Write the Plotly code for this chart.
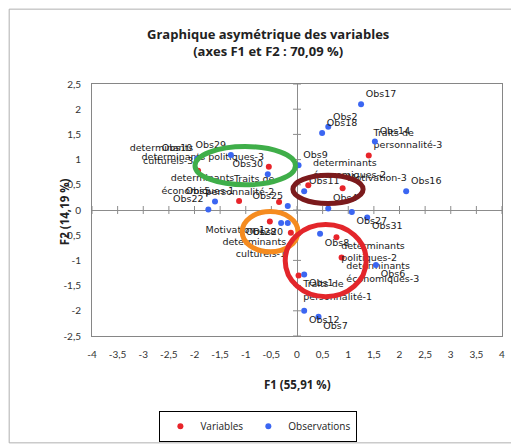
import plotly.graph_objects as go

# ---- data ----
var_x = [1.40, 0.22, 0.89, -0.55, -1.13, -0.35, -0.53, -0.12, 0.77, 0.87, 0.03, -1.93]
var_y = [1.08, 0.49, 0.43, 0.86, 0.18, 0.16, -0.23, -0.45, -0.54, -0.94, -1.30, 0.78]
var_labels = ["Traits de<br>personnalité-3", "determinants<br>économiques-2", "Motivation-3",
              "determinants politiques-3", "determinants<br>économiques-1", "Traits de<br>personnalité-2",
              "Motivation-1", "determinants<br>culturels-1", "determinants<br>politiques-2",
              "determinants<br>économiques-3", "Traits de<br>personnalité-1", "determinants<br>culturels-3"]

obs_x = [1.25, 0.61, 0.49, 1.52, 0.03, 2.13, 0.14, 0.61, 1.07, 1.37, 0.45, 1.54, 0.14, 0.14, 0.42,
         -1.29, -0.57, -1.95, -1.60, -1.73, -0.18, -0.31, -0.18]
obs_y = [2.10, 1.65, 1.53, 1.36, 0.89, 0.37, 0.37, 0.03, -0.04, -0.15, -0.47, -1.09, -1.28, -2.00, -2.12,
         1.09, 0.71, 1.02, 0.17, 0.01, 0.08, -0.26, -0.26]
obs_labels = ["Obs17", "Obs2", "Obs18", "Obs14", "Obs9", "Obs16", "Obs11", "Obs4", "Obs27", "Obs31",
              "Obs8", "Obs6", "Obs1", "Obs12", "Obs7",
              "Obs29", "Obs30", "Obs10", "Obs5", "Obs22", "Obs25", "Obs28", "Obs20"]

x_ticks = [-4, -3.5, -3, -2.5, -2, -1.5, -1, -0.5, 0, 0.5, 1, 1.5, 2, 2.5, 3, 3.5, 4]
x_ticktext = ["-4", "-3,5", "-3", "-2,5", "-2", "-1,5", "-1", "-0,5", "0", "0,5", "1", "1,5", "2", "2,5", "3", "3,5", "4"]
y_ticks = [-2.5, -2, -1.5, -1, -0.5, 0, 0.5, 1, 1.5, 2, 2.5]
y_ticktext = ["-2,5", "-2", "-1,5", "-1", "-0,5", "0", "0,5", "1", "1,5", "2", "2,5"]

# highlight ellipses (x0, x1, y0, y1, colour)
ellipses = [
    (-1.99, -0.03, 0.50, 1.26, "#3fae49"),
    (-0.08, 1.29, 0.13, 0.69, "#7b1a1c"),
    (-1.07, 0.02, -0.83, -0.03, "#f58b1f"),
    (-0.23, 1.35, -1.72, -0.29, "#e3262b"),
]


def text_pos(xs, ys):
    return [("top" if y >= 0 else "bottom") + (" right" if x >= 0 else " left") for x, y in zip(xs, ys)]


label_font = dict(family="DejaVu Sans", size=9.5, color="#1a1a1a")

fig = go.Figure()
fig.add_trace(go.Scatter(
    x=var_x, y=var_y, mode="markers+text", name="Variables",
    text=var_labels, textposition=text_pos(var_x, var_y), textfont=label_font,
    marker=dict(color="#e8242a", size=6),
))
fig.add_trace(go.Scatter(
    x=obs_x, y=obs_y, mode="markers+text", name="Observations",
    text=obs_labels, textposition=text_pos(obs_x, obs_y), textfont=label_font,
    marker=dict(color="#3b66f2", size=6),
))

for (x0, x1, y0, y1, c) in ellipses:
    fig.add_shape(type="circle", xref="x", yref="y", x0=x0, x1=x1, y0=y0, y1=y1,
                  line=dict(color=c, width=5), layer="above")

# crossing tick marks on the zero lines
for v in x_ticks:
    fig.add_shape(type="line", xref="x", yref="y", ysizemode="pixel", yanchor=0,
                  x0=v, x1=v, y0=-4, y1=4, line=dict(color="#8c8c8c", width=1), layer="below")
for v in y_ticks:
    fig.add_shape(type="line", xref="x", yref="y", xsizemode="pixel", xanchor=0,
                  x0=-4, x1=4, y0=v, y1=v, line=dict(color="#8c8c8c", width=1), layer="below")

# outer chart border
fig.add_shape(type="rect", xref="paper", yref="paper", x0=-0.202, x1=1.031, y0=-0.424, y1=1.297,
              line=dict(color="#b0b0b0", width=1), layer="below")

axis_common = dict(showgrid=False, zeroline=True, zerolinecolor="#8c8c8c", zerolinewidth=1,
                   showline=True, mirror=True, linecolor="#868686", linewidth=1,
                   tickcolor="rgba(0,0,0,0)", automargin=False,
                   tickfont=dict(family="Lato", size=10, color="#333333"))
fig.update_xaxes(range=[-4, 4], tickvals=x_ticks, ticktext=x_ticktext, ticks="outside", ticklen=9, **axis_common)
fig.update_yaxes(range=[-2.5, 2.5], tickvals=y_ticks, ticktext=y_ticktext, ticks="outside", ticklen=8, **axis_common)

title_font = dict(family="Open Sans", size=11.5, color="#222222")
fig.add_annotation(xref="paper", yref="paper", x=0.5, y=-0.194, xanchor="center", yanchor="middle",
                   text="<b>F1 (55,91 %)</b>", showarrow=False, font=title_font)
fig.add_annotation(xref="paper", yref="paper", x=-0.068, y=0.492, xanchor="center", yanchor="middle",
                   text="<b>F2 (14,19 %)</b>", textangle=-90, showarrow=False, font=title_font)

fig.add_annotation(xref="paper", yref="paper", x=0.429, y=1.166, xanchor="center", yanchor="middle",
                   text="<b>Graphique asymétrique des variables</b><br><b>(axes F1 et F2 : 70,09 %)</b>",
                   showarrow=False, font=dict(family="Open Sans", size=13, color="#222222"))

fig.update_layout(
    width=511, height=439,
    margin=dict(l=84, r=17, t=76, b=111, autoexpand=False),
    paper_bgcolor="white", plot_bgcolor="white",
    showlegend=True,
    legend=dict(orientation="h", xref="container", yref="container", x=0.49, y=0.047,
                xanchor="center", yanchor="middle",
                bordercolor="#000000", borderwidth=1, font=dict(family="Open Sans", size=10, color="#222222"),
                itemwidth=30, itemsizing="trace", tracegroupgap=0),
)

fig.write_html("out.html")
